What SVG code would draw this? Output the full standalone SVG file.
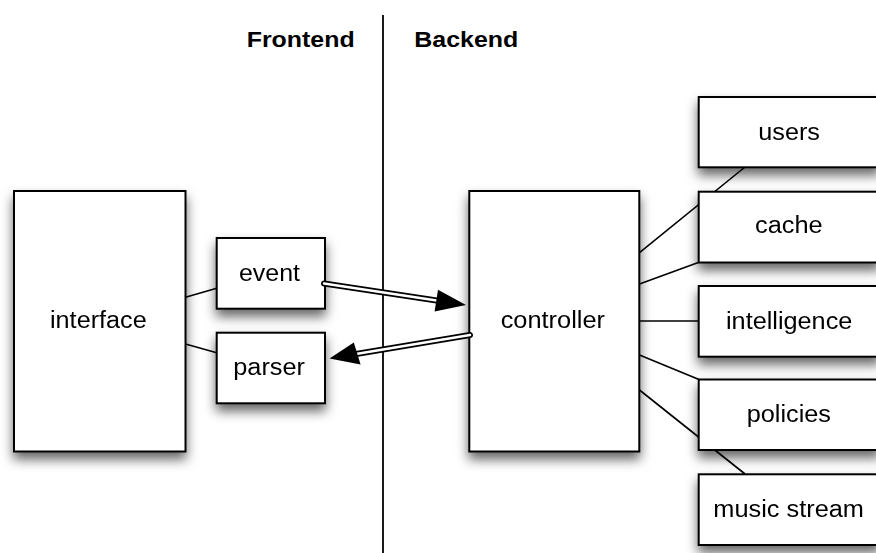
<svg xmlns="http://www.w3.org/2000/svg" width="876" height="553" viewBox="0 0 876 553">
<defs>
<filter id="sh" x="-20%" y="-20%" width="140%" height="160%">
<feDropShadow dx="0" dy="7" stdDeviation="6" flood-color="#000" flood-opacity="0.6"/>
</filter>
</defs>
<style>
.box{fill:#fff;stroke:#000;stroke-width:2}
.lbl{font-family:"Liberation Sans",Arial,Helvetica,sans-serif;font-size:23px;fill:#000}
.hdr{font-family:"Liberation Sans",Arial,Helvetica,sans-serif;font-size:22px;font-weight:bold;fill:#000}
.ln{stroke:#000;stroke-width:1.6;fill:none}
.shaftO{stroke:#000;stroke-width:6;stroke-linecap:round;fill:none}
.shaftI{stroke:#fff;stroke-width:2.6;stroke-linecap:round;fill:none}
</style>
<rect width="876" height="553" fill="#fff"/>
<g id="divider">
<line x1="383" y1="15" x2="383" y2="553" stroke="#000" stroke-width="1.8"/>
<text class="hdr" x="246.7" y="47" textLength="108" lengthAdjust="spacingAndGlyphs">Frontend</text>
<text class="hdr" x="414.3" y="47" textLength="104" lengthAdjust="spacingAndGlyphs">Backend</text>
</g>
<g id="connectors">
<line class="ln" x1="185.5" y1="297.3" x2="216.7" y2="288.3"/>
<line class="ln" x1="185.5" y1="344" x2="216.7" y2="352.7"/>
<line class="ln" x1="639.5" y1="252.7" x2="745" y2="167"/>
<line class="ln" x1="639.5" y1="284" x2="699" y2="262.3"/>
<line class="ln" x1="639.5" y1="321" x2="699" y2="321"/>
<line class="ln" x1="639.5" y1="355" x2="699" y2="379.5"/>
<line class="ln" x1="639.5" y1="390" x2="745" y2="474"/>
</g>
<g id="n-interface" filter="url(#sh)">
<rect class="box" x="14" y="191" width="171.5" height="260.5"/>
<text class="lbl" x="50" y="328.3" textLength="96.7" lengthAdjust="spacingAndGlyphs">interface</text>
</g>
<g id="n-event" filter="url(#sh)">
<rect class="box" x="216.7" y="238" width="108.3" height="70.7"/>
<text class="lbl" x="239" y="281" textLength="61" lengthAdjust="spacingAndGlyphs">event</text>
</g>
<g id="n-parser" filter="url(#sh)">
<rect class="box" x="216.7" y="332.7" width="108.3" height="70.6"/>
<text class="lbl" x="233.3" y="375" textLength="71.7" lengthAdjust="spacingAndGlyphs">parser</text>
</g>
<g id="n-controller" filter="url(#sh)">
<rect class="box" x="469.3" y="191" width="170" height="260.5"/>
<text class="lbl" x="500.7" y="328.3" textLength="104.3" lengthAdjust="spacingAndGlyphs">controller</text>
</g>
<g id="n-users" filter="url(#sh)">
<rect class="box" x="698.7" y="97" width="181" height="70.3"/>
<text class="lbl" x="758.3" y="140" textLength="61.7" lengthAdjust="spacingAndGlyphs">users</text>
</g>
<g id="n-cache" filter="url(#sh)">
<rect class="box" x="698.7" y="191.7" width="181" height="70.8"/>
<text class="lbl" x="755" y="233.3" textLength="67.7" lengthAdjust="spacingAndGlyphs">cache</text>
</g>
<g id="n-intelligence" filter="url(#sh)">
<rect class="box" x="698.7" y="286" width="181" height="70.7"/>
<text class="lbl" x="726" y="329" textLength="126.3" lengthAdjust="spacingAndGlyphs">intelligence</text>
</g>
<g id="n-policies" filter="url(#sh)">
<rect class="box" x="698.7" y="379.5" width="181" height="70.5"/>
<text class="lbl" x="746.7" y="421.7" textLength="84.3" lengthAdjust="spacingAndGlyphs">policies</text>
</g>
<g id="n-music-stream" filter="url(#sh)">
<rect class="box" x="698.7" y="474.3" width="181" height="70.7"/>
<text class="lbl" x="713.3" y="517.3" textLength="150.7" lengthAdjust="spacingAndGlyphs">music stream</text>
</g>
<g id="arrows">
<line class="shaftO" x1="324" y1="283.5" x2="440" y2="301"/>
<line class="shaftI" x1="324" y1="283.5" x2="440" y2="301"/>
<polygon points="466,305 434.6,311.5 438,289.8" fill="#000"/>
<line class="shaftO" x1="470" y1="335" x2="356" y2="354"/>
<line class="shaftI" x1="470" y1="335" x2="356" y2="354"/>
<polygon points="329.5,358.5 353.8,342.5 360.6,364.4" fill="#000"/>
</g>
</svg>
